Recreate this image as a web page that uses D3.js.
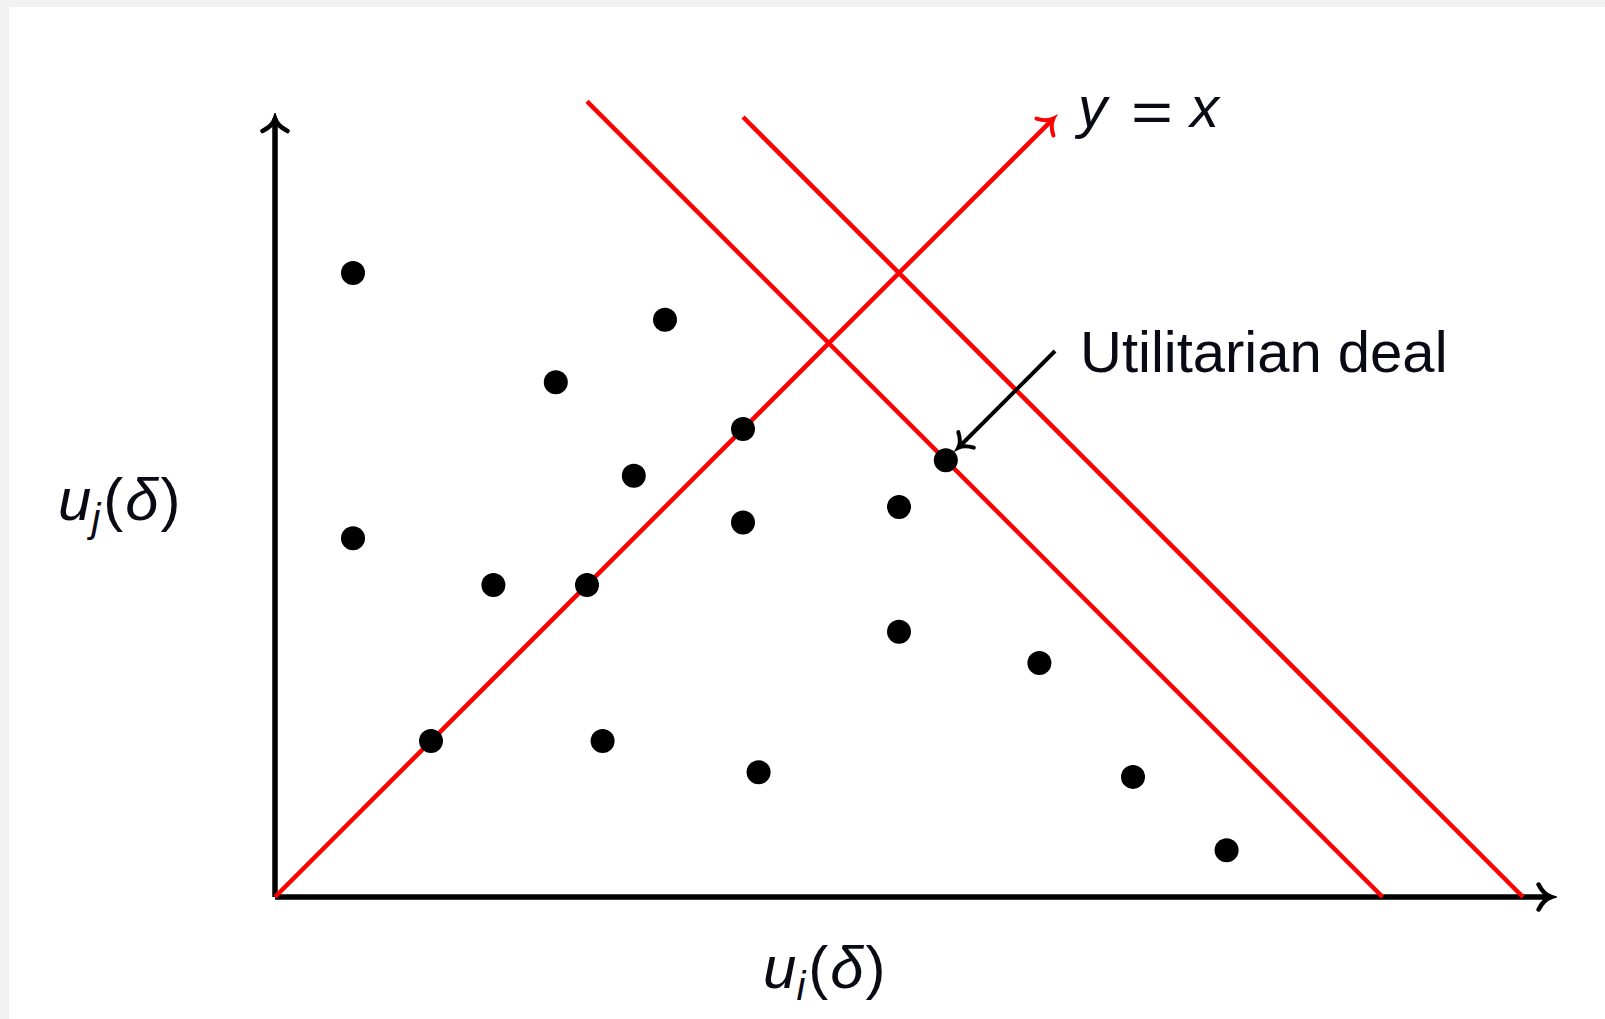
<!DOCTYPE html>
<html>
<head>
<meta charset="utf-8">
<script src="https://cdn.jsdelivr.net/npm/d3@7"></script>
<style>
  body { margin: 0; background: #f1f1f1; }
  svg { display: block; }
</style>
</head>
<body>
<div id="deal-viz"><svg></svg></div>
<script>
// deals : utility of agent i (x) and agent j (y)
const dealsUi = [5, 25, 18, 30, 23, 5, 30, 40, 43, 14, 20, 40, 49, 10, 21, 31, 55, 61.0]
const dealsUj = [40, 37, 33, 30, 27, 23, 24, 25, 28, 20, 20, 17, 15, 10, 10, 8, 7.7, 3]

// iso-welfare lines  ui + uj = sum, drawn from ui = start down to the x axis
const isoSums = [71, 80]
const isoStartUi = [20, 30]

// axes and diagonal extent
const axisMaxUi = 81.8
const axisMaxUj = 49.9
const diagMax = 49.9

// annotation arrow for the utilitarian deal
const noteFrom = [50, 35]
const noteTo = [43.8, 28.8]

const width = 1605
const height = 1019

const svg = d3.select('#deal-viz').select('svg')
  .attr('width', width)
  .attr('height', height)

const x = d3.scaleLinear().domain([0, 82]).range([275, 275 + 82 * 15.6])
const y = d3.scaleLinear().domain([0, 50]).range([897, 897 - 50 * 15.6])

/**
 * Adds a tikz-like "to" arrow head marker.
 */
function addMarker (defs, id, color, size, strokeWidth) {
  defs.append('marker')
    .attr('id', id)
    .attr('markerUnits', 'userSpaceOnUse')
    .attr('viewBox', '-20 -20 26 40')
    .attr('markerWidth', 26)
    .attr('markerHeight', 40)
    .attr('refX', 0)
    .attr('refY', 0)
    .attr('orient', 'auto')
    .append('path')
    .attr('d', `M${-size},${-size} C${-size * 0.7},${-size * 0.4} ${-size * 0.25},${-size * 0.08} 0,0 C${-size * 0.25},${size * 0.08} ${-size * 0.7},${size * 0.4} ${-size},${size}`)
    .attr('fill', 'none')
    .attr('stroke', color)
    .attr('stroke-width', strokeWidth)
    .attr('stroke-linecap', 'round')
}

/**
 * Draws a straight segment between two data points.
 */
function segment (g, p0, p1, color, strokeWidth, marker) {
  const line = g.append('line')
    .attr('x1', x(p0[0]))
    .attr('y1', y(p0[1]))
    .attr('x2', x(p1[0]))
    .attr('y2', y(p1[1]))
    .attr('stroke', color)
    .attr('stroke-width', strokeWidth)
  if (marker) line.attr('marker-end', `url(#${marker})`)
  return line
}

// background
svg.append('rect')
  .attr('width', width)
  .attr('height', height)
  .attr('fill', '#f1f1f1')
svg.append('rect')
  .attr('x', 9)
  .attr('y', 7)
  .attr('width', width - 9)
  .attr('height', height - 7)
  .attr('fill', '#ffffff')

const defs = svg.append('defs')
addMarker(defs, 'to-black', '#000', 12.5, 4.5)
addMarker(defs, 'to-red', '#ff0000', 12, 4)
addMarker(defs, 'to-small', '#000', 11, 4)

const g = svg.append('g')

// axes
segment(g, [0, 0], [axisMaxUi, 0], '#000', 5.5, 'to-black')
segment(g, [0, 0], [0, axisMaxUj], '#000', 5.5, 'to-black')

// y = x
segment(g, [0, 0], [diagMax, diagMax], '#ff0000', 4.5, 'to-red')

// iso lines
isoSums.forEach((s, i) => {
  segment(g, [isoStartUi[i], s - isoStartUi[i]], [s, 0], '#ff0000', 4.5)
})

// deals
g.selectAll('circle.deal')
  .data(dealsUi.map((d, i) => [d, dealsUj[i]]))
  .join('circle')
  .attr('class', 'deal')
  .attr('cx', d => x(d[0]))
  .attr('cy', d => y(d[1]))
  .attr('r', 12)
  .attr('fill', '#000')

// annotation
segment(g, noteFrom, noteTo, '#000', 4, 'to-small')

const font = '"Liberation Sans", Arial, sans-serif'

g.append('text')
  .attr('x', 1080)
  .attr('y', 372)
  .attr('font-family', font)
  .attr('font-size', 58)
  .attr('fill', '#0a0a14')
  .text('Utilitarian deal')

const eq = g.append('text')
  .attr('y', 127)
  .attr('font-family', font)
  .attr('font-size', 58)
  .attr('fill', '#0a0a14')
eq.append('tspan').attr('x', 1078).attr('font-style', 'italic').text('y')
eq.append('tspan').attr('x', 1131).attr('dy', 5).attr('textLength', 42).attr('lengthAdjust', 'spacingAndGlyphs').text('=')
eq.append('tspan').attr('x', 1190).attr('dy', -5).attr('font-style', 'italic').text('x')

/**
 * Writes a label like u_i(δ).
 */
function utilityLabel (px, py, sub) {
  const t = g.append('text')
    .attr('x', px)
    .attr('y', py)
    .attr('font-family', font)
    .attr('font-size', 60)
    .attr('fill', '#0a0a14')
  t.append('tspan').attr('font-style', 'italic').text('u')
  t.append('tspan').attr('font-style', 'italic').attr('font-size', 40).attr('dy', 12).text(sub)
  t.append('tspan').attr('dy', -12).attr('dx', 3).text('(')
  t.append('tspan').attr('font-style', 'italic').attr('dx', 2).text('δ')
  t.append('tspan').attr('dx', 2).text(')')
}

utilityLabel(58, 520, 'j')
utilityLabel(763, 988, 'i')
</script>
</body>
</html>
